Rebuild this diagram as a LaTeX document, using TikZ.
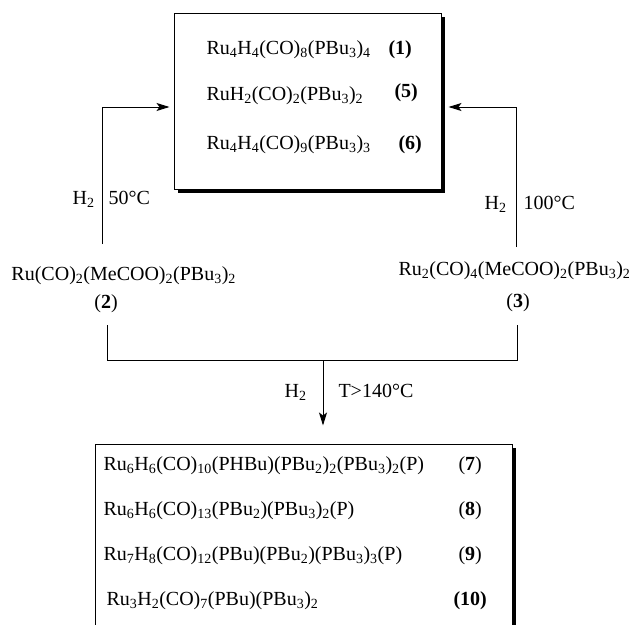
\documentclass[tikz,border=0pt]{standalone}
\usepackage{fontspec}
\setmainfont{Liberation Serif}
\usetikzlibrary{arrows.meta,shadows}
\newcommand{\sbs}[1]{\textsubscript{#1}}

\begin{document}
\begin{tikzpicture}[x=1pt,y=-1pt,line width=1pt,
    font=\fontsize{20}{24}\selectfont,
    txt/.style={inner sep=0pt,anchor=base west},
    cbox/.style={draw,fill=white,line width=1pt,
      drop shadow={shadow xshift=3.5pt,shadow yshift=-3.5pt,fill=black,opacity=1}},
    rxn/.style={-{Stealth[length=13pt,width=8pt,inset=3pt]}}]
  \useasboundingbox (0,0) rectangle (632,624);
  \node[cbox,minimum width=267pt,minimum height=176pt] (topbox) at (307.5,101) {};
  \node[cbox,minimum width=417pt,minimum height=200pt] (botbox) at (303.5,544) {};
  \node[txt] (f1) at (206,54) {Ru\sbs{4}H\sbs{4}(CO)\sbs{8}(PBu\sbs{3})\sbs{4}};
  \node[txt] (n1) at (388,54) {\textbf{(1)}};
  \node[txt] (f5) at (206,100) {RuH\sbs{2}(CO)\sbs{2}(PBu\sbs{3})\sbs{2}};
  \node[txt] (n5) at (394,97) {\textbf{(5)}};
  \node[txt] (f6) at (206,149) {Ru\sbs{4}H\sbs{4}(CO)\sbs{9}(PBu\sbs{3})\sbs{3}};
  \node[txt] (n6) at (398,149) {\textbf{(6)}};
  \node[txt] (f2) at (11,280) {Ru(CO)\sbs{2}(MeCOO)\sbs{2}(PBu\sbs{3})\sbs{2}};
  \node[txt,anchor=base] (n2) at (106,308) {(\textbf{2})};
  \node[txt] (f3) at (398,275) {Ru\sbs{2}(CO)\sbs{4}(MeCOO)\sbs{2}(PBu\sbs{3})\sbs{2}};
  \node[txt,anchor=base] (n3) at (518,307) {(\textbf{3})};
  \node[txt] (f7) at (103,470) {Ru\sbs{6}H\sbs{6}(CO)\sbs{10}(PHBu)(PBu\sbs{2})\sbs{2}(PBu\sbs{3})\sbs{2}(P)};
  \node[txt] (n7) at (458,470) {(\textbf{7})};
  \node[txt] (f8) at (103,515) {Ru\sbs{6}H\sbs{6}(CO)\sbs{13}(PBu\sbs{2})(PBu\sbs{3})\sbs{2}(P)};
  \node[txt] (n8) at (458,515) {(\textbf{8})};
  \node[txt] (f9) at (103,560) {Ru\sbs{7}H\sbs{8}(CO)\sbs{12}(PBu)(PBu\sbs{2})(PBu\sbs{3})\sbs{3}(P)};
  \node[txt] (n9) at (458,560) {(\textbf{9})};
  \node[txt] (f10) at (106,605) {Ru\sbs{3}H\sbs{2}(CO)\sbs{7}(PBu)(PBu\sbs{3})\sbs{2}};
  \node[txt] (n10) at (453,605) {\textbf{(10)}};
  \coordinate (s2) at (102,244);
  \coordinate (s3) at (516,247);
  \coordinate (b2) at (107,325);
  \coordinate (b3) at (517,325);
  \coordinate (m) at (323,360);
  \draw[rxn] (s2) |- ([xshift=-4pt,yshift=-6pt]topbox.west);
  \draw[rxn] (s3) |- ([xshift=7pt,yshift=-6pt]topbox.east);
  \draw (b2) -- ++(0,35) -| (b3);
  \draw[rxn] (m) -- ([yshift=18pt]botbox.north -| m);
  \node[txt,anchor=base east] (h2a) at (95,204) {H\sbs{2}};
  \node[txt] (ta) at (108,204) {50°C};
  \node[txt,anchor=base east] (h2b) at (507,209) {H\sbs{2}};
  \node[txt] (tb) at (523,209) {100°C};
  \node[txt,anchor=base east] (h2c) at (307,397) {H\sbs{2}};
  \node[txt] (tc) at (338,397) {T>140°C};
\end{tikzpicture}
\end{document}
